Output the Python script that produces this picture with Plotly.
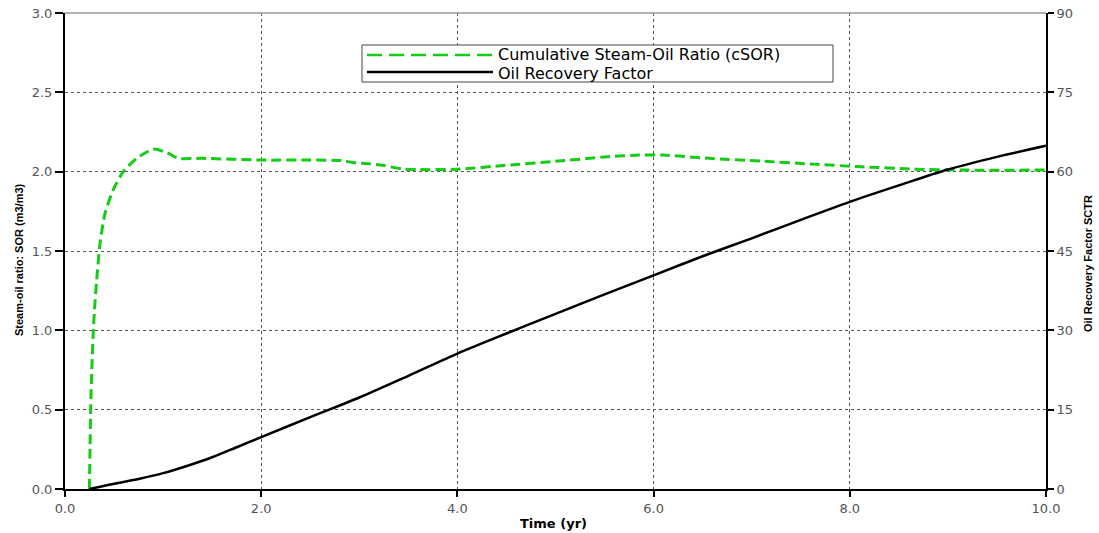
import plotly.graph_objects as go

# ---- data ----
sor_time = [0.248, 0.255, 0.262, 0.275, 0.289, 0.305, 0.323, 0.357, 0.408, 0.49, 0.594, 0.73, 0.90, 1.04,
            1.155, 1.4, 2.0, 2.5, 2.82, 2.93, 3.1, 3.24, 3.45, 3.6, 4.0, 4.49, 5.0, 5.53, 5.85, 6.1, 6.57,
            7.09, 7.6, 8.12, 8.65, 9.16, 10.0]
sor_values = [0.0, 0.25, 0.52, 0.78, 1.0, 1.17, 1.317, 1.548, 1.737, 1.884, 2.0, 2.084, 2.142, 2.12,
              2.084, 2.084, 2.073, 2.073, 2.07, 2.058, 2.05, 2.04, 2.016, 2.013, 2.015, 2.04, 2.065, 2.094,
              2.105, 2.105, 2.084, 2.067, 2.048, 2.031, 2.016, 2.01, 2.01]
rf_time = [0.25, 0.5, 0.75, 1.0, 1.25, 1.5, 1.75, 2.0, 2.5, 3.0, 3.5, 4.0, 4.5, 5.0, 5.5, 6.0, 6.5, 7.0,
           7.5, 8.0, 8.5, 9.0, 9.5, 10.0]
rf_values = [0.0, 1.0, 1.9, 3.0, 4.4, 6.0, 7.9, 9.8, 13.6, 17.3, 21.4, 25.6, 29.4, 33.1, 36.8, 40.4, 44.0,
             47.4, 50.9, 54.3, 57.4, 60.4, 62.8, 64.9]

x_ticks = [0, 2, 4, 6, 8, 10]
y_ticks = [0, 0.5, 1.0, 1.5, 2.0, 2.5, 3.0]
y2_ticks = [0, 15, 30, 45, 60, 75, 90]

series_names = ["Cumulative Steam-Oil Ratio (cSOR)", "Oil Recovery Factor"]
GREEN = "#14cc14"

W, H = 1099, 533
L, R, T, B = 65, 53, 13, 44
PW, PH = W - L - R, H - T - B

def px(xp):
    return (xp - L) / PW

def py(yp):
    return (H - B - yp) / PH

fig = go.Figure()
fig.add_trace(go.Scatter(x=sor_time, y=sor_values, mode="lines", name=series_names[0],
                         line=dict(color=GREEN, width=3, dash="10px,5px", shape="spline", smoothing=0.6),
                         showlegend=False))
fig.add_trace(go.Scatter(x=rf_time, y=rf_values, mode="lines", name=series_names[1], yaxis="y2",
                         line=dict(color="black", width=2.5, shape="spline", smoothing=0.8),
                         showlegend=False))

tickfont = dict(family="DejaVu Sans, sans-serif", size=13, color="#555555")
titlefont = dict(family="Liberation Sans Narrow, Arial Narrow, Liberation Sans, sans-serif", size=11,
                 color="black", weight="bold")

fig.update_layout(
    width=W, height=H,
    margin=dict(l=L, r=R, t=T, b=B, autoexpand=False),
    paper_bgcolor="white", plot_bgcolor="white",
    showlegend=False,
    xaxis=dict(range=[0, 10], tickvals=x_ticks, ticktext=[f"{v:.1f}" for v in x_ticks], automargin=False,
               showgrid=True, gridcolor="#555555", griddash="dot", gridwidth=1,
               showline=True, linecolor="black", linewidth=2, zeroline=False,
               ticks="outside", ticklen=6, tickwidth=2, tickcolor="black", tickfont=tickfont),
    yaxis=dict(range=[0, 3], tickvals=y_ticks, ticktext=[f"{v:.1f}" for v in y_ticks], automargin=False,
               showgrid=True, gridcolor="#555555", griddash="3px,3px", gridwidth=1,
               showline=True, linecolor="black", linewidth=2, zeroline=False,
               ticks="outside", ticklen=8, tickwidth=2, tickcolor="black", tickfont=tickfont),
    yaxis2=dict(range=[0, 90], tickvals=y2_ticks, ticktext=[str(v) for v in y2_ticks], automargin=False,
                overlaying="y", side="right", showgrid=False,
                showline=True, linecolor="black", linewidth=2, zeroline=False,
                ticks="outside", ticklen=6, tickwidth=2, tickcolor="black", tickfont=tickfont),
)

# top border
fig.add_shape(type="line", xref="paper", yref="paper", x0=0, x1=1, y0=1, y1=1,
              line=dict(color="#999999", width=1.5), layer="above")

# manual legend
fig.add_shape(type="rect", xref="paper", yref="paper", x0=px(362), x1=px(833), y0=py(82), y1=py(45),
              line=dict(color="#444444", width=1), fillcolor="white", layer="above")
fig.add_shape(type="line", xref="paper", yref="paper", x0=px(367), x1=px(493), y0=py(55), y1=py(55),
              line=dict(color=GREEN, width=2.5, dash="15px,7px"), layer="above")
fig.add_shape(type="line", xref="paper", yref="paper", x0=px(367), x1=px(493), y0=py(72), y1=py(72),
              line=dict(color="black", width=2.5), layer="above")
legfont = dict(family="DejaVu Sans, sans-serif", size=16, color="black")
fig.add_annotation(xref="paper", yref="paper", x=px(496), y=py(54), text=series_names[0],
                   showarrow=False, xanchor="left", yanchor="middle", font=legfont)
fig.add_annotation(xref="paper", yref="paper", x=px(496), y=py(73), text=series_names[1],
                   showarrow=False, xanchor="left", yanchor="middle", font=legfont)

# axis titles
fig.add_annotation(xref="paper", yref="paper", x=px(553), y=py(523), text="Time (yr)",
                   showarrow=False, xanchor="center", yanchor="middle",
                   font=dict(family="DejaVu Sans, sans-serif", size=13, color="black", weight="bold"))
fig.add_annotation(xref="paper", yref="paper", x=px(19), y=py(260), text="Steam-oil ratio: SOR (m3/m3)",
                   showarrow=False, textangle=-90, xanchor="center", yanchor="middle", font=titlefont)
fig.add_annotation(xref="paper", yref="paper", x=px(1088), y=py(264), text="Oil Recovery Factor SCTR",
                   showarrow=False, textangle=-90, xanchor="center", yanchor="middle", font=titlefont)

fig.write_html("out.html")
